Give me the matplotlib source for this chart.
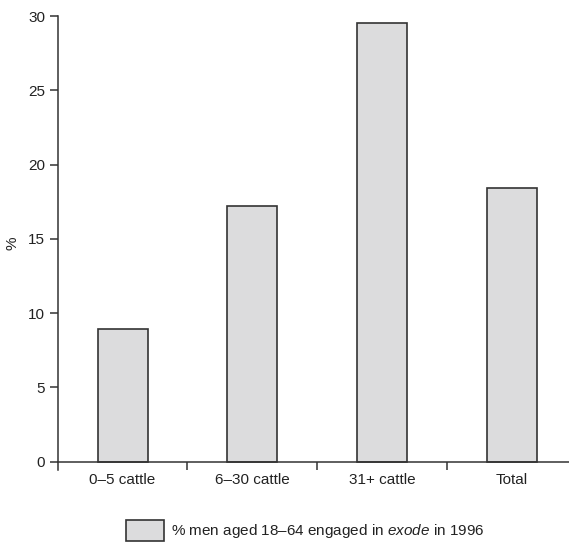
import matplotlib.pyplot as plt
from matplotlib.ticker import FixedLocator

plt.rcParams['font.family'] = ['Liberation Sans', 'DejaVu Sans']
plt.rcParams['font.size'] = 11
plt.rcParams['mathtext.fontset'] = 'custom'
plt.rcParams['mathtext.rm'] = 'Liberation Sans'
plt.rcParams['mathtext.it'] = 'Liberation Sans:italic'

categories = ['0\u20135 cattle', '6\u201330 cattle', '31+ cattle', 'Total']
pct_exode = [8.9, 17.2, 29.5, 18.4]
legend_label = '% men aged 18\u201364 engaged in $\\it{exode}$ in 1996'

line_col = '#333333'
bar_col = '#dcdcdd'

fig = plt.figure(figsize=(5.69, 5.45), dpi=100)
ax = fig.add_axes([57.7 / 569, 75 / 545, 1 - 57.7 / 569, (470 - 16) / 545])

x = list(range(len(categories)))
bars = ax.bar(x, pct_exode, width=0.385, color=bar_col, edgecolor=line_col,
              linewidth=1.2, label=legend_label)

ax.set_xlim(-0.5, 3.44)
ax.set_ylim(-0.56, 30)
ax.set_yticks([0, 5, 10, 15, 20, 25, 30])
ax.set_xticks(x)
ax.set_xticklabels(categories)
ax.xaxis.set_minor_locator(FixedLocator([0.5, 1.5, 2.5]))

for s in ['top', 'right']:
    ax.spines[s].set_visible(False)
ax.spines['bottom'].set_position(('data', 0))
ax.spines['bottom'].set_color(line_col)
ax.spines['left'].set_color(line_col)
ax.spines['bottom'].set_linewidth(1.1)
ax.spines['left'].set_linewidth(1.1)

ax.tick_params(axis='x', which='major', length=0, pad=8, colors='#222222')
ax.tick_params(axis='x', which='minor', length=6, width=1.1, color=line_col, direction='out')
ax.tick_params(axis='y', length=6, width=1.1, color=line_col, pad=3, labelcolor='#222222')

ax.set_ylabel('%', color='#222222', labelpad=6)

fig.legend(handles=[bars], labels=[legend_label], loc='upper left',
           bbox_to_anchor=(125.7 / 569, 1 - 520 / 545), frameon=False,
           borderpad=0, borderaxespad=0, handlelength=2.5, handleheight=1.7,
           handletextpad=0.45, fontsize=11, labelcolor='#222222')

fig.savefig('out.png', dpi=100)
